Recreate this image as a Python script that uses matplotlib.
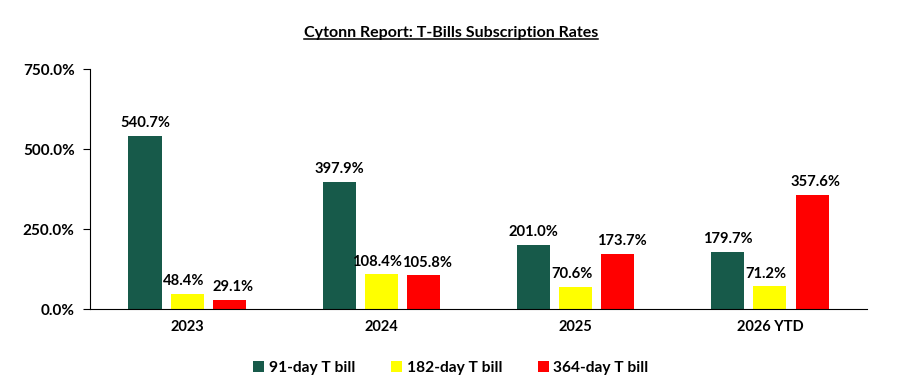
import numpy as np
import matplotlib.pyplot as plt
from matplotlib.lines import Line2D

plt.rcParams['font.family'] = ['Lato', 'DejaVu Sans']
plt.rcParams['font.weight'] = 'bold'

# data
years = ["2023", "2024", "2025", "2026 YTD"]
series_names = ["91-day T bill", "182-day T bill", "364-day T bill"]
bill_91 = [540.7, 397.9, 201.0, 179.7]
bill_182 = [48.4, 108.4, 70.6, 71.2]
bill_364 = [29.1, 105.8, 173.7, 357.6]
colors = ["#175A4A", "#FFFF00", "#FF0000"]

fig = plt.figure(figsize=(9.02, 3.84), dpi=100)
ax = fig.add_axes([0.0998, 0.195, 0.8614, 0.625])

x = np.arange(len(years))
width = 0.17
offsets = [-0.217, 0, 0.217]
# small sideways nudge of the labels so neighbours don't collide
label_nudge = [0, -0.02, 0.02]
for vals, name, col, off, nd in zip([bill_91, bill_182, bill_364], series_names,
                                    colors, offsets, label_nudge):
    bars = ax.bar(x + off, vals, width, color=col, label=name)
    for b, v in zip(bars, vals):
        ax.text(b.get_x() + b.get_width() / 2 + nd, v + 18, "%.1f%%" % v,
                ha="center", va="bottom", fontsize=10.6, fontweight="bold")

ax.set_xlim(-0.5, 3.5)
ax.set_ylim(0, 750)
ax.set_yticks([0, 250, 500, 750])
ax.set_yticklabels(["%.1f%%" % t for t in [0, 250, 500, 750]])
ax.set_xticks(x)
ax.set_xticklabels(years)
ax.tick_params(axis="x", length=0, pad=8, labelsize=10.5)
ax.tick_params(axis="y", length=5, width=0.8, pad=6, labelsize=11)
for lab in ax.get_xticklabels() + ax.get_yticklabels():
    lab.set_fontweight("bold")
ax.spines["top"].set_visible(False)
ax.spines["right"].set_visible(False)
ax.spines["left"].set_linewidth(0.8)
ax.spines["bottom"].set_linewidth(0.8)

# title with underline
title = fig.text(0.5, 0.915, "Cytonn Report: T-Bills Subscription Rates",
                 ha="center", va="center", fontsize=11.5, fontweight="bold")
fig.canvas.draw()
bb = title.get_window_extent().transformed(fig.transFigure.inverted())
fig.add_artist(Line2D([bb.x0, bb.x1], [bb.y0 + 0.002, bb.y0 + 0.002],
                      color="black", linewidth=1.1, transform=fig.transFigure))

fig.legend(loc="center", bbox_to_anchor=(0.5, 0.042), ncol=3, frameon=False,
           handlelength=0.7, handleheight=0.7, handletextpad=0.3,
           columnspacing=2.3, prop={"weight": "bold", "size": 11.2})

fig.savefig("out.png", dpi=100)
